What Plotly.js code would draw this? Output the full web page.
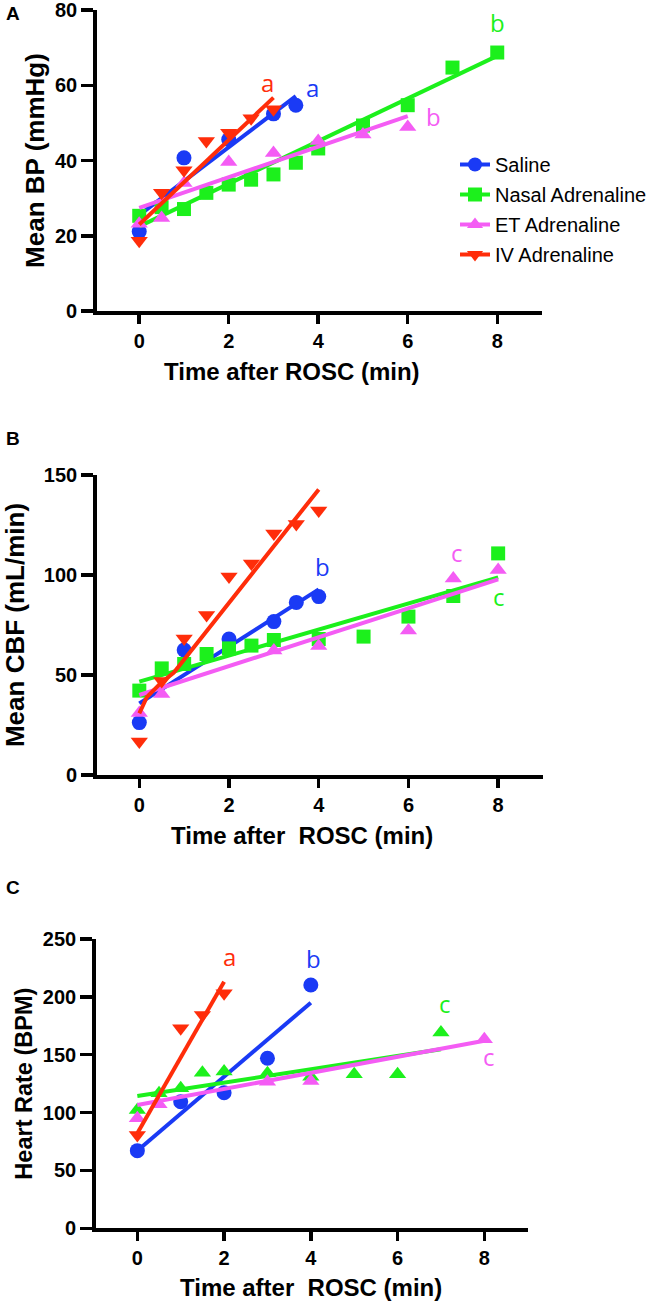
<!DOCTYPE html>
<html>
<head>
<meta charset="utf-8">
<script src="https://cdn.plot.ly/plotly-3.0.1.min.js"></script>
<style>html,body{margin:0;padding:0;background:#fff;}#chart{width:653px;height:1303px;}</style>
</head>
<body>
<div id="chart"></div>
<script>
// ---------- series names & colours ----------
const seriesNames = ["Saline", "Nasal Adrenaline", "ET Adrenaline", "IV Adrenaline"];
const seriesColors = ["#1a3af5", "#1cf01c", "#f45cf4", "#ff2d0a"];

// ---------- Panel A: Mean BP (mmHg) ----------
const aSalineX = [0, 1, 2, 3, 3.5];
const aSalineY = [21.1, 40.7, 45.6, 52.4, 54.7];
const aNasalX = [0, 0.5, 1, 1.5, 2, 2.5, 3, 3.5, 4, 5, 6, 7, 8];
const aNasalY = [25.3, 27.6, 27.1, 31.4, 33.6, 34.9, 36.3, 39.4, 43.2, 49.3, 54.7, 64.7, 68.7];
const aEtX = [0, 0.5, 1, 2, 3, 4, 5, 6];
const aEtY = [23.2, 24.7, 34.0, 39.6, 42.0, 45.2, 46.9, 48.9];
const aIvX = [0, 0.5, 1, 1.5, 2, 2.5, 3];
const aIvY = [18.7, 31.4, 37.4, 45.2, 47.4, 51.2, 53.6];
// fitted lines
const aSalineFitX = [0, 3.5], aSalineFitY = [25.5, 57.1];
const aNasalFitX = [0, 8], aNasalFitY = [22.5, 67.8];
const aEtFitX = [0, 6], aEtFitY = [27.4, 51.8];
const aIvFitX = [0, 3], aIvFitY = [23.0, 56.7];

// ---------- Panel B: Mean CBF (mL/min) ----------
const bSalineX = [0, 1, 2, 3, 3.5, 4];
const bSalineY = [26.2, 62.5, 68.0, 76.7, 86.3, 89.2];
const bNasalX = [0, 0.5, 1, 1.5, 2, 2.5, 3, 4, 5, 6, 7, 8];
const bNasalY = [42.2, 53.3, 55.5, 60.5, 63.3, 64.7, 67.5, 68.0, 69.2, 79.2, 89.5, 110.8];
const bEtX = [0, 0.5, 3, 4, 6, 7, 8];
const bEtY = [31.0, 40.5, 62.2, 64.5, 72.2, 98.3, 102.5];
const bIvX = [0, 0.5, 1, 1.5, 2, 2.5, 3, 3.5, 4];
const bIvY = [16.7, 47.0, 68.3, 80.0, 99.2, 105.8, 120.8, 125.5, 132.2];
const bSalineFitX = [0, 4], bSalineFitY = [35.8, 92.8];
const bNasalFitX = [0, 8], bNasalFitY = [46.7, 98.8];
const bEtFitX = [0, 8], bEtFitY = [40.0, 97.8];
const bIvFitX = [0, 0.17, 0.47, 0.77, 4], bIvFitY = [30.8, 39.0, 45.8, 51.2, 142.8];

// ---------- Panel C: Heart Rate (BPM) ----------
const cSalineX = [0, 1, 2, 3, 4];
const cSalineY = [67.1, 109.4, 117.2, 146.9, 210.3];
const cNasalX = [0, 0.5, 1, 1.5, 2, 3, 4, 5, 6, 7];
const cNasalY = [102.3, 116.7, 121.0, 134.5, 135.4, 134.0, 131.0, 133.1, 133.1, 169.1];
const cEtX = [0, 0.5, 3, 4, 8];
const cEtY = [95.0, 107.2, 126.7, 127.3, 163.3];
const cIvX = [0, 1, 1.5, 2];
const cIvY = [80.6, 172.9, 184.4, 203.1];
const cSalineFitX = [0, 4], cSalineFitY = [67.0, 195.0];
const cNasalFitX = [0, 7], cNasalFitY = [114.3, 154.7];
const cEtFitX = [0, 8], cEtFitY = [106.6, 162.1];
const cIvFitX = [0, 2], cIvFitY = [82.1, 213.1];

// ---------- tick labels ----------
const xTicks = [0, 2, 4, 6, 8];
const aYTicks = [0, 20, 40, 60, 80];
const bYTicks = [0, 50, 100, 150];
const cYTicks = [0, 50, 100, 150, 200, 250];

// ---------- significance letters ----------
const aLetters = ["a", "b", "b", "a"];   // saline, nasal, et, iv
const bLetters = ["b", "c", "c", "a"];
const cLetters = ["b", "c", "c", "a"];

const symbolsAB = ["circle", "square", "triangle-up", "triangle-down"];
const symbolsC = ["circle", "triangle-up", "triangle-up", "triangle-down"];
const markerSizes = {"circle": 15, "square": 14, "triangle-up": 15, "triangle-down": 15};

const panels = [
  {xa: "x", ya: "y", pts: [[aSalineX, aSalineY], [aNasalX, aNasalY], [aEtX, aEtY], [aIvX, aIvY]],
   fits: [[aSalineFitX, aSalineFitY], [aNasalFitX, aNasalFitY], [aEtFitX, aEtFitY], [aIvFitX, aIvFitY]], sym: symbolsAB},
  {xa: "x2", ya: "y2", pts: [[bSalineX, bSalineY], [bNasalX, bNasalY], [bEtX, bEtY], [bIvX, bIvY]],
   fits: [[bSalineFitX, bSalineFitY], [bNasalFitX, bNasalFitY], [bEtFitX, bEtFitY], [bIvFitX, bIvFitY]], sym: symbolsAB},
  {xa: "x3", ya: "y3", pts: [[cSalineX, cSalineY], [cNasalX, cNasalY], [cEtX, cEtY], [cIvX, cIvY]],
   fits: [[cSalineFitX, cSalineFitY], [cNasalFitX, cNasalFitY], [cEtFitX, cEtFitY], [cIvFitX, cIvFitY]], sym: symbolsC}
];

const traces = [];
panels.forEach(function (p) {
  for (let i = 0; i < 4; i++) {
    traces.push({
      type: "scatter", mode: "lines", x: p.fits[i][0], y: p.fits[i][1],
      xaxis: p.xa, yaxis: p.ya, line: {color: seriesColors[i], width: 4},
      showlegend: false, legendgroup: "g" + i, hoverinfo: "skip", cliponaxis: false
    });
    traces.push({
      type: "scatter", mode: "markers", x: p.pts[i][0], y: p.pts[i][1],
      xaxis: p.xa, yaxis: p.ya, name: seriesNames[i],
      marker: {symbol: p.sym[i], size: markerSizes[p.sym[i]], color: seriesColors[i], line: {width: 0}},
      showlegend: false, legendgroup: "g" + i, cliponaxis: false
    });
  }
});
// legend entries (line + marker, like the reference legend)
for (let i = 0; i < 4; i++) {
  traces.push({
    type: "scatter", mode: "lines+markers", x: [null], y: [null], xaxis: "x", yaxis: "y",
    name: seriesNames[i], legendgroup: "g" + i, showlegend: true,
    line: {color: seriesColors[i], width: 4},
    marker: {symbol: symbolsAB[i], size: 14, color: seriesColors[i]}
  });
}

const W = 653, H = 1303;
const FAM = "Arial, 'Liberation Sans', sans-serif";
const tickFont = {family: FAM, size: 20, color: "#000"};
const boldText = function (v) { return "<b>" + v + "</b>"; };
function titleFont(s) { return {family: FAM, size: s, color: "#000"}; }
function xAxis(domL, domR, anchor, range) {
  return {domain: [domL / W, domR / W], anchor: anchor, range: range,
    tickvals: xTicks, ticktext: xTicks.map(boldText),
    showline: true, linecolor: "#000", linewidth: 3.5, ticks: "outside", ticklen: 9, tickwidth: 3.5,
    tickcolor: "#000", showgrid: false, zeroline: false, tickfont: tickFont, ticklabelstandoff: 0,
    ticklabeloverflow: "allow"};
}
function yAxis(top, bottom, anchor, range, tv, title, tsize, standoff) {
  return {domain: [1 - bottom / H, 1 - top / H], anchor: anchor, range: range,
    tickvals: tv, ticktext: tv.map(boldText),
    showline: true, linecolor: "#000", linewidth: 3.5, ticks: "outside", ticklen: 12, tickwidth: 3.5,
    tickcolor: "#000", showgrid: false, zeroline: false, tickfont: tickFont, ticklabeloverflow: "allow",
    title: {text: boldText(title), font: titleFont(tsize), standoff: standoff}};
}

const letterFont = function (c) { return {family: "'Open Sans', 'Noto Sans', sans-serif", size: 24, color: c}; };
function letter(xref, yref, x, y, t, c) {
  return {xref: xref, yref: yref, x: x, y: y, text: t, showarrow: false, font: letterFont(c),
    xanchor: "center", yanchor: "middle"};
}
function panelLabel(t, ypx) {
  return {xref: "paper", yref: "paper", x: 4 / W, y: 1 - ypx / H, text: boldText(t), showarrow: false,
    xanchor: "left", yanchor: "middle", font: {family: FAM, size: 19, color: "#000"}};
}
function xTitle(t, cx, cy) {
  return {xref: "paper", yref: "paper", x: cx / W, y: 1 - cy / H, text: boldText(t), showarrow: false,
    xanchor: "center", yanchor: "middle", font: titleFont(24)};
}

const annotations = [
  panelLabel("A", 13), panelLabel("B", 438), panelLabel("C", 887),
  xTitle("Time after ROSC (min)", 292, 372),
  xTitle("Time after&nbsp; ROSC (min)", 302, 835),
  xTitle("Time after&nbsp; ROSC (min)", 311, 1287),
  // letters panel A
  letter("x", "y", 3.87, 59.5, aLetters[0], seriesColors[0]),
  letter("x", "y", 8.0, 76.8, aLetters[1], seriesColors[1]),
  letter("x", "y", 6.57, 51.7, aLetters[2], seriesColors[2]),
  letter("x", "y", 2.86, 60.8, aLetters[3], seriesColors[3]),
  // panel B
  letter("x2", "y2", 4.08, 104.2, bLetters[0], seriesColors[0]),
  letter("x2", "y2", 8.03, 89.2, bLetters[1], seriesColors[1]),
  letter("x2", "y2", 7.08, 111.2, bLetters[2], seriesColors[2]),
  letter("x2", "y2", 4.27, 150.8, bLetters[3], seriesColors[3]),
  // panel C
  letter("x3", "y3", 4.05, 233.4, cLetters[0], seriesColors[0]),
  letter("x3", "y3", 7.1, 193.9, cLetters[1], seriesColors[1]),
  letter("x3", "y3", 8.1, 148.3, cLetters[2], seriesColors[2]),
  letter("x3", "y3", 2.12, 234.7, cLetters[3], seriesColors[3])
];

const layout = {
  width: W, height: H, margin: {l: 0, r: 0, t: 0, b: 0},
  paper_bgcolor: "#fff", plot_bgcolor: "rgba(0,0,0,0)",
  showlegend: true,
  legend: {x: 455 / W, y: 1 - 145 / H, xanchor: "left", yanchor: "top", bgcolor: "rgba(0,0,0,0)",
    font: {family: FAM, size: 20, color: "#000"},
    traceorder: "grouped", tracegroupgap: 1, itemsizing: "trace"},
  xaxis: xAxis(96.7, 542, "y", [-0.95, 9.0]),
  yaxis: yAxis(10, 311, "x", [0, 80], aYTicks, "Mean BP (mmHg)", 26, 4),
  xaxis2: xAxis(96.7, 543, "y2", [-0.95, 9.0]),
  yaxis2: yAxis(475, 775, "x2", [0, 150], bYTicks, "Mean CBF (mL/min)", 26, 22),
  xaxis3: xAxis(95.7, 527.7, "y3", [-0.96, 9.0]),
  yaxis3: yAxis(939, 1228.3, "x3", [0, 250], cYTicks, "Heart Rate (BPM)", 23.5, 4),
  annotations: annotations
};

Plotly.newPlot("chart", traces, layout, {staticPlot: true, displayModeBar: false});
</script>
</body>
</html>
